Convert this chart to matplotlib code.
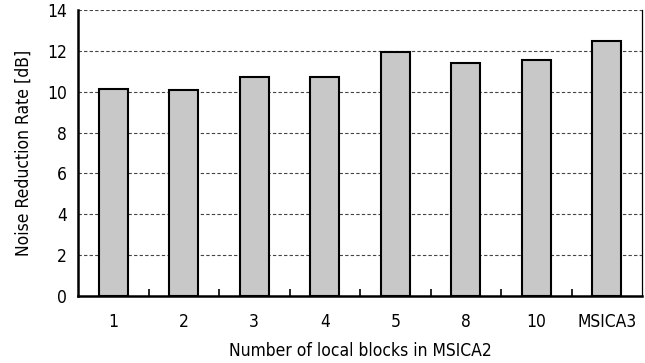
import matplotlib
matplotlib.use("Agg")
import matplotlib.pyplot as plt
import numpy as np

# Noise reduction per configuration
categories = ["1", "2", "3", "4", "5", "8", "10", "MSICA3"]
nrr_db = [10.13, 10.08, 10.72, 10.72, 11.94, 11.40, 11.55, 12.48]
y_ticks = [0, 2, 4, 6, 8, 10, 12, 14]

plt.rcParams["font.family"] = ["DejaVu Sans"]
plt.rcParams["font.stretch"] = "condensed"
FS = 12.5

fig = plt.figure(figsize=(6.45, 3.63), dpi=100)
ax = fig.add_axes([78 / 645, 67 / 363, 564 / 645, 286 / 363])

x = np.arange(len(categories))
ax.bar(x, nrr_db, width=0.41, color="#c8c8c8", edgecolor="black",
       linewidth=1.5, zorder=3)

ax.set_xlim(-0.5, len(categories) - 0.5)
ax.set_ylim(0, 14)
ax.set_yticks(y_ticks)
ax.set_yticklabels([str(v) for v in y_ticks], fontsize=FS)
ax.set_xticks(x)
ax.set_xticklabels(categories, fontsize=FS)
ax.tick_params(axis="x", length=0, pad=12)
ax.tick_params(axis="y", length=0, pad=8)

# category separators on the baseline
ax.set_xticks(np.arange(0.5, len(categories) - 0.5, 1.0), minor=True)
ax.tick_params(axis="x", which="minor", direction="in", length=5,
               width=1.2, color="black")

ax.yaxis.grid(True, linestyle=(0, (3, 2)), color="#444444", linewidth=0.8,
              zorder=0)
ax.set_axisbelow(True)

for side in ("left", "bottom"):
    ax.spines[side].set_linewidth(1.8)
    ax.spines[side].set_color("black")
ax.spines["right"].set_linewidth(0.9)
ax.spines["right"].set_color("black")
ax.spines["top"].set_visible(False)

ax.set_ylabel("Noise Reduction Rate [dB]", fontsize=FS, labelpad=10)
ax.set_xlabel("Number of local blocks in MSICA2", fontsize=FS, labelpad=8.5)

fig.savefig("out.png", dpi=100)
